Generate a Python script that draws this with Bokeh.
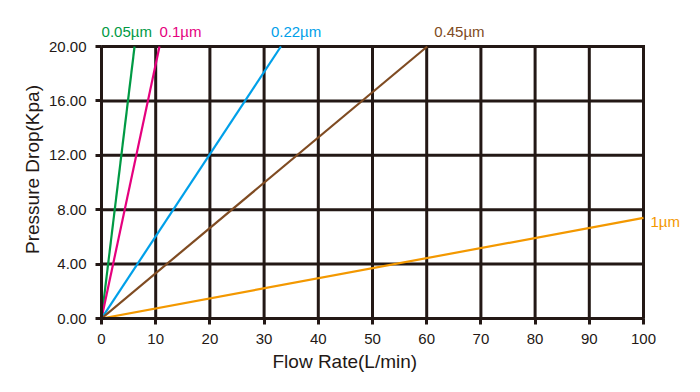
from bokeh.plotting import figure
from bokeh.models import Range1d, FixedTicker, NumeralTickFormatter, Title
from bokeh.core.properties import value
from bokeh.embed import file_html
from bokeh.resources import INLINE

# data
series_names = ["0.05µm", "0.1µm", "0.22µm", "0.45µm", "1µm"]
series_x = [[0, 6.1], [0, 10.7], [0, 33.1], [0, 60.1], [0, 100]]
series_y = [[0, 20], [0, 20], [0, 20], [0, 20], [0, 7.4]]
series_colors = ["#009a44", "#e5007e", "#00a0e9", "#7f4b22", "#f39800"]
x_ticks = [0, 10, 20, 30, 40, 50, 60, 70, 80, 90, 100]
y_ticks = [0, 4, 8, 12, 16, 20]

# label placement (screen offsets, px)
label_dx = [-33, 0, -10, 7, 7]
label_dy = [-7, -7, -7, -7, 4]
label_baseline = ["bottom", "bottom", "bottom", "bottom", "middle"]

GRID = "#231815"
FONT = "Liberation Sans"

W, H = 692, 384
BL, BR, BT, BB = 101, 2, 20, 66
grid_w = 542.0   # pixel width of the 0..100 grid box
grid_h = 272.0   # pixel height of the 0..20 grid box
frame_w = W - BL - BR
frame_h = H - BT - BB
x_end = x_ticks[-1] * frame_w / grid_w
y_end = y_ticks[-1] * frame_h / grid_h

p = figure(width=W, height=H, output_backend="svg", toolbar_location=None,
           x_range=Range1d(0, x_end), y_range=Range1d(0, y_end),
           min_border_left=BL, min_border_right=BR, min_border_top=BT, min_border_bottom=BB)
p.background_fill_color = "white"
p.border_fill_color = "white"
p.outline_line_color = None
p.xgrid.visible = False
p.ygrid.visible = False

for ax in (p.xaxis, p.yaxis):
    ax.axis_line_color = GRID
    ax.axis_line_width = 3
    ax.major_tick_line_color = GRID
    ax.major_tick_line_width = 3
    ax.major_tick_out = 6
    ax.major_tick_in = 0
    ax.minor_tick_line_color = None
    ax.major_label_text_font = FONT
    ax.major_label_text_font_size = "15px"
    ax.major_label_text_color = "#231815"
    ax.axis_label_text_font = FONT
    ax.axis_label_text_font_size = "19px"
    ax.axis_label_text_font_style = "normal"
    ax.axis_label_text_color = "#231815"

p.xaxis.bounds = (x_ticks[0], x_ticks[-1])
p.yaxis.bounds = (y_ticks[0], y_ticks[-1])
p.xaxis.ticker = FixedTicker(ticks=x_ticks)
p.yaxis.ticker = FixedTicker(ticks=y_ticks)
p.yaxis.formatter = NumeralTickFormatter(format="0.00")
p.yaxis.axis_label = "Pressure Drop(Kpa)"
p.xaxis.major_label_standoff = 9
p.yaxis.major_label_standoff = 9
p.yaxis.axis_label_standoff = 3

xt = Title(text="Flow Rate(L/min)", align="left", offset=171,
           text_font=FONT, text_font_size="19px", text_font_style="normal",
           text_color="#231815", standoff=4)
p.add_layout(xt, "below")

# grid box drawn from the tick lists
p.segment(x0=x_ticks, y0=[y_ticks[0]] * len(x_ticks), x1=x_ticks, y1=[y_ticks[-1]] * len(x_ticks),
          line_color=GRID, line_width=3, line_cap="square")
p.segment(x0=[x_ticks[0]] * len(y_ticks), y0=y_ticks, x1=[x_ticks[-1]] * len(y_ticks), y1=y_ticks,
          line_color=GRID, line_width=3, line_cap="square")

for name, xs, ys, c, dx, dy, bl in zip(series_names, series_x, series_y, series_colors,
                                        label_dx, label_dy, label_baseline):
    p.line(xs, ys, line_color=c, line_width=2.2)
    p.text(x=[xs[-1]], y=[ys[-1]], text=[name], text_color=c, x_offset=dx, y_offset=dy,
           text_baseline=bl, text_align="left",
           text_font=value(FONT), text_font_size="15px")

open("out.html", "w").write(file_html(p, INLINE))
